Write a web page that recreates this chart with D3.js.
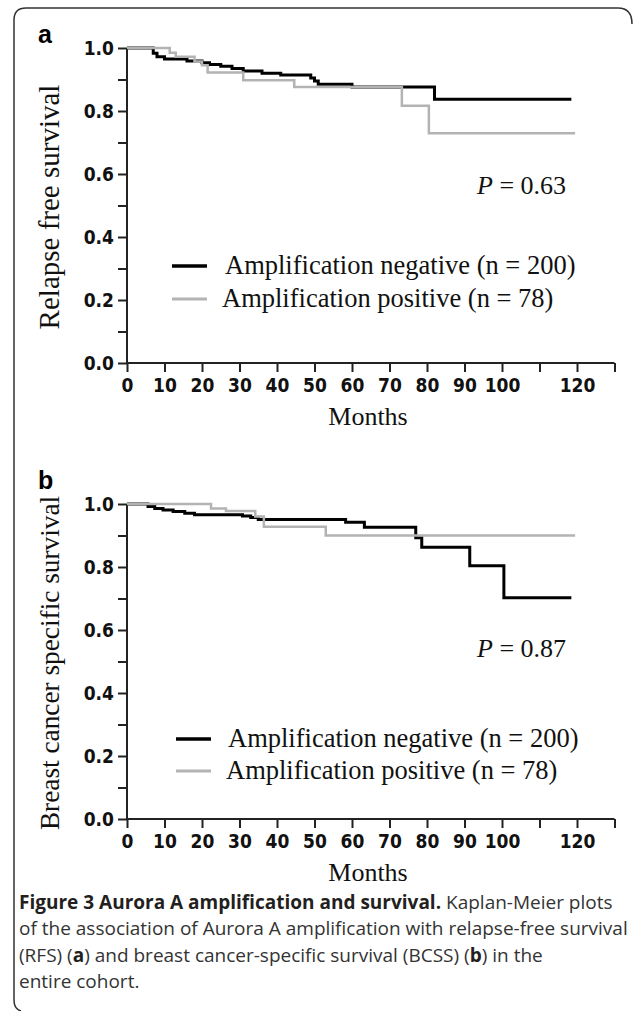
<!DOCTYPE html>
<html><head><meta charset="utf-8">
<script src="https://cdn.jsdelivr.net/npm/d3@7"></script>
<style>
html,body{margin:0;padding:0;background:#fff;}
svg{display:block;}
</style></head>
<body>
<svg id="chart" width="633" height="1011"></svg>
<script>
// ---------- data ----------
const xTicks = [0,10,20,30,40,50,60,70,80,90,100,110,120,130];
const xTickLabels = ["0","10","20","30","40","50","60","70","80","90","100","","120",""];
const yTicks = [0,0.1,0.2,0.3,0.4,0.5,0.6,0.7,0.8,0.9,1.0];
const yTickLabels = ["0.0","","0.2","","0.4","","0.6","","0.8","","1.0"];

// Panel a: relapse-free survival
const rfsNegTime = [0, 7, 8, 10, 16, 20, 22, 25, 28, 31, 36, 41, 49, 50, 51, 60, 82, 118.5];
const rfsNegSurv = [1.0, 0.983, 0.972, 0.965, 0.959, 0.953, 0.948, 0.942, 0.935, 0.927, 0.920, 0.914, 0.905, 0.895, 0.885, 0.876, 0.837, 0.837];
const rfsPosTime = [0, 11.4, 13, 18, 20, 21.5, 31, 44.6, 73.3, 80.5, 119.5];
const rfsPosSurv = [1.0, 0.985, 0.972, 0.957, 0.945, 0.922, 0.898, 0.876, 0.817, 0.729, 0.729];

// Panel b: breast cancer specific survival
const bcssNegTime = [0, 5.6, 7.4, 9.6, 12.3, 15.4, 18, 30.8, 33, 35, 58.3, 63.3, 77, 78.6, 91.4, 100.5, 118.5];
const bcssNegSurv = [1.0, 0.992, 0.986, 0.981, 0.976, 0.971, 0.966, 0.962, 0.957, 0.951, 0.942, 0.926, 0.893, 0.863, 0.804, 0.702, 0.702];
const bcssPosTime = [0, 22.4, 26.4, 34.2, 36.5, 53, 119.5];
const bcssPosSurv = [1.0, 0.986, 0.978, 0.960, 0.928, 0.900, 0.900];

const seriesNames = ["Amplification negative (n = 200)", "Amplification positive (n = 78)"];
const panels = [
  {letter:"a", ytitle:"Relapse free survival", p:"0.63",
   neg:[rfsNegTime, rfsNegSurv], pos:[rfsPosTime, rfsPosSurv]},
  {letter:"b", ytitle:"Breast cancer specific survival", p:"0.87",
   neg:[bcssNegTime, bcssNegSurv], pos:[bcssPosTime, bcssPosSurv]}
];
const captionLines = [
  [{t:"Figure 3 Aurora A amplification and survival.", b:true},{t:" Kaplan-Meier plots"}],
  [{t:"of the association of Aurora A amplification with relapse-free survival"}],
  [{t:"(RFS) ("},{t:"a",b:true},{t:") and breast cancer-specific survival (BCSS) ("},{t:"b",b:true},{t:") in the"}],
  [{t:"entire cohort."}]
];

// ---------- layout ----------
const svg = d3.select("#chart");
const BLACK = "#000", GRAY = "#b3b3b3", AXIS = "#222";
const tickFont = "'DejaVu Sans Condensed', 'DejaVu Sans', sans-serif";
const serif = "'Liberation Serif', 'Times New Roman', serif";

// frame
svg.append("path")
  .attr("d","M 632,24 Q 632,8 618,8 L 26,8 Q 14,8 14,20 L 14,1000 Q 14,1009 21,1011")
  .attr("fill","none").attr("stroke","#333").attr("stroke-width",1.5);

const x = d3.scaleLinear().domain([0,130]).range([127,614.5]);
const offsets = [0, 456];
const ytitleSize = [29, 27.3];
const ytitleY = [207, 663];
const pBase = [20, 27];
const legendLines = [[266, 299], [739, 771]];
const legendLineX = [172, 176];
const legendTextX = [[225, 222], [228, 226]];

panels.forEach((pn, i) => {
  const off = offsets[i];
  const y = d3.scaleLinear().domain([0,1]).range([363+off, 48+off]);
  const g = svg.append("g");

  // axes
  const yAxis = d3.axisLeft(y).tickValues(yTicks).tickSize(9).tickPadding(4)
    .tickFormat((d,k) => yTickLabels[k]);
  const gy = g.append("g").attr("transform",`translate(${x(0)},0)`).call(yAxis);
  const xAxis = d3.axisBottom(x).tickValues(xTicks).tickSize(9).tickPadding(7)
    .tickFormat((d,k) => xTickLabels[k]);
  const gx = g.append("g").attr("transform",`translate(0,${y(0)})`).call(xAxis);
  [gx, gy].forEach(a => {
    a.select(".domain").attr("stroke",AXIS).attr("stroke-width",2);
    a.selectAll(".tick line").attr("stroke",AXIS).attr("stroke-width",2);
    a.selectAll(".tick text").attr("fill","#111").attr("font-family",tickFont)
      .attr("font-weight","bold").attr("font-size",19).attr("font-stretch","condensed");
  });
  gx.select(".domain").attr("d",`M${x(0)},0H${x(130)}`);
  gy.select(".domain").attr("d",`M0,${y(0)}V${y(1)}`);

  // curves
  const line = d3.line().x(d => x(d[0])).y(d => y(d[1])).curve(d3.curveStepAfter);
  const negPts = pn.neg[0].map((t,k) => [t, pn.neg[1][k]]);
  const posPts = pn.pos[0].map((t,k) => [t, pn.pos[1][k]]);
  g.append("path").datum(negPts).attr("d",line).attr("fill","none")
    .attr("stroke",BLACK).attr("stroke-width",3);
  g.append("path").datum(posPts).attr("d",line).attr("fill","none")
    .attr("stroke",GRAY).attr("stroke-width",2.5);

  // panel letter
  g.append("text").attr("x",38).attr("y",i ? 489 : 43).text(pn.letter)
    .attr("font-family","'Liberation Sans', Arial, sans-serif").attr("font-weight","bold")
    .attr("font-size",25).attr("fill","#000");

  // y title
  g.append("text").attr("transform",`translate(59,${ytitleY[i]}) rotate(-90)`)
    .attr("text-anchor","middle").attr("font-family",serif).attr("font-size",ytitleSize[i])
    .attr("fill","#111").text(pn.ytitle);

  // x title
  g.append("text").attr("x",368).attr("y",y(0)+62).attr("text-anchor","middle")
    .attr("font-family",serif).attr("font-size",26).attr("fill","#111").text("Months");

  // P value
  const pt = g.append("text").attr("x",477).attr("y",y(0.6)+pBase[i])
    .attr("font-family",serif).attr("font-size",26).attr("fill","#111");
  pt.append("tspan").attr("font-style","italic").text("P");
  pt.append("tspan").text(" = " + pn.p);

  // legend
  [[BLACK,3.5],[GRAY,3]].forEach((st,k) => {
    const ly = legendLines[i][k];
    g.append("line").attr("x1",legendLineX[i]).attr("x2",legendLineX[i]+35)
      .attr("y1",ly).attr("y2",ly).attr("stroke",st[0]).attr("stroke-width",st[1]);
    g.append("text").attr("x",legendTextX[i][k]).attr("y",ly+8)
      .attr("font-family",serif).attr("font-size",26.5).attr("fill","#111").text(seriesNames[k]);
  });
});

// caption
const capY = [909, 935, 962, 988];
captionLines.forEach((ln, k) => {
  const t = svg.append("text").attr("x",19).attr("y",capY[k])
    .attr("font-family","'Open Sans', sans-serif").attr("font-size",19).attr("fill","#333");
  ln.forEach(seg => {
    t.append("tspan").attr("font-weight", seg.b ? "bold" : "normal")
      .attr("fill", seg.b ? "#231f20" : "#333").text(seg.t);
  });
});
</script>
</body></html>
